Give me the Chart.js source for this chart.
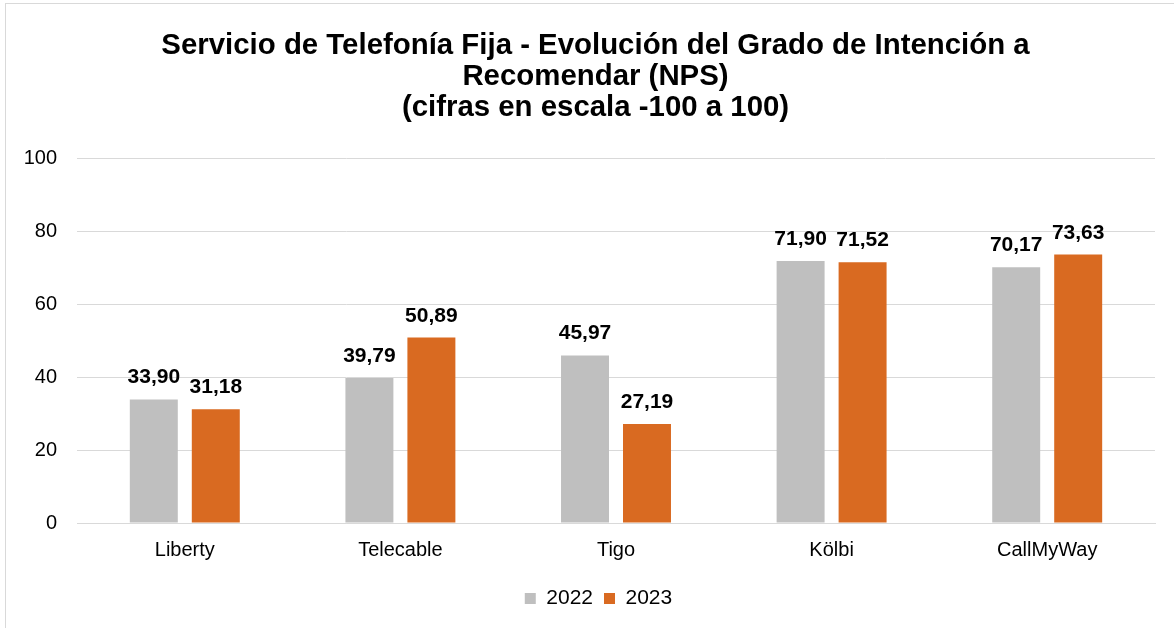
<!DOCTYPE html>
<html>
<head>
<meta charset="utf-8">
<script src="https://cdn.jsdelivr.net/npm/chart.js@4/dist/chart.umd.min.js"></script>
<style>
html,body{margin:0;padding:0;background:#fff;}
#wrap{width:1174px;height:628px;position:relative;}
</style>
</head>
<body>
<div id="wrap"><canvas id="c" width="1174" height="628"></canvas></div>
<script>
const categories = ["Liberty", "Telecable", "Tigo", "Kölbi", "CallMyWay"];
const values2022 = [33.90, 39.79, 45.97, 71.90, 70.17];
const values2023 = [31.18, 50.89, 27.19, 71.52, 73.63];
const seriesLabels = ["2022", "2023"];
const titleLines = ["Servicio de Telefonía Fija - Evolución del Grado de Intención a", "Recomendar (NPS)", "(cifras en escala -100 a 100)"];

const FONT = "'Liberation Sans', Arial, sans-serif";

const frame = {
  id: 'frame',
  beforeDraw(chart) {
    const ctx = chart.ctx;
    ctx.save();
    ctx.fillStyle = '#fff';
    ctx.fillRect(0, 0, chart.width, chart.height);
    ctx.strokeStyle = '#D9D9D9';
    ctx.lineWidth = 1;
    ctx.strokeRect(5.5, 3.5, 1300, 800);
    ctx.restore();
  }
};

const shiftBoxes = {
  id: 'shiftBoxes',
  afterLayout(chart) {
    if (chart.titleBlock) { chart.titleBlock.left += 8; chart.titleBlock.right += 8; }
    if (chart.legend) { chart.legend.left += 11; chart.legend.right += 11; }
  }
};

const valueLabels = {
  id: 'valueLabels',
  afterDatasetsDraw(chart) {
    const ctx = chart.ctx;
    ctx.save();
    ctx.font = "bold 21px " + FONT;
    ctx.fillStyle = '#000';
    ctx.textAlign = 'center';
    ctx.textBaseline = 'alphabetic';
    chart.data.datasets.forEach((ds, i) => {
      const meta = chart.getDatasetMeta(i);
      meta.data.forEach((bar, j) => {
        const v = ds.data[j];
        ctx.fillText(v.toFixed(2).replace('.', ','), bar.x, bar.y - 16);
      });
    });
    ctx.restore();
  }
};

new Chart(document.getElementById('c'), {
  type: 'bar',
  data: {
    labels: categories,
    datasets: [
      { label: seriesLabels[0], data: values2022, backgroundColor: '#BFBFBF', categoryPercentage: 0.575, barPercentage: 0.774 },
      { label: seriesLabels[1], data: values2023, backgroundColor: '#D96A21', categoryPercentage: 0.575, barPercentage: 0.774 }
    ]
  },
  options: {
    responsive: false,
    animation: false,
    devicePixelRatio: 1,
    layout: { padding: { left: 20, right: 19, top: 0, bottom: 9 } },
    plugins: {
      title: {
        display: true,
        text: titleLines,
        font: { family: FONT, size: 29.4, weight: 'bold', lineHeight: 1.06 },
        color: '#000',
        padding: { top: 30, bottom: 35 }
      },
      legend: {
        position: 'bottom',
        labels: {
          font: { family: FONT, size: 21 },
          color: '#000',
          boxWidth: 11,
          boxHeight: 11,
          padding: 11
        }
      },
      tooltip: { enabled: false }
    },
    scales: {
      x: {
        grid: { display: false, drawTicks: false },
        border: { display: true, color: '#D9D9D9', width: 1 },
        ticks: { font: { family: FONT, size: 20, lineHeight: 1.2 }, color: '#000', padding: 15 }
      },
      y: {
        min: 0, max: 100,
        afterFit(scale) { scale.width = 57; },
        grid: { color: '#D9D9D9', drawTicks: false },
        border: { display: false },
        ticks: { stepSize: 20, font: { family: FONT, size: 20 }, color: '#000', padding: 20 }
      }
    }
  },
  plugins: [frame, shiftBoxes, valueLabels]
});
</script>
</body>
</html>
